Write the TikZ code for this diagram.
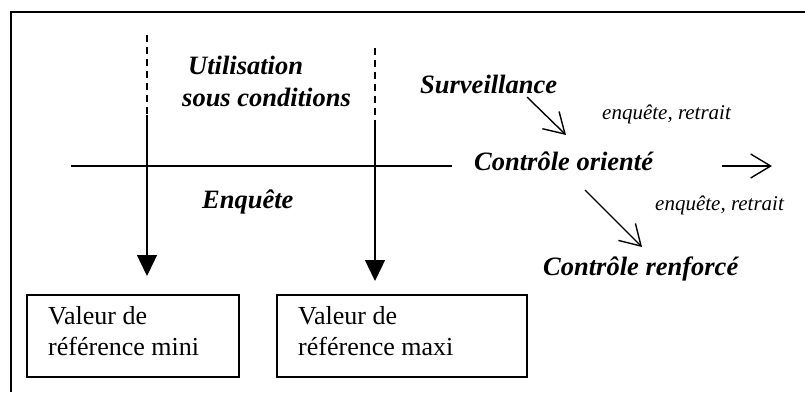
\documentclass[tikz,border=0pt]{standalone}
\usepackage{fontspec}
\setmainfont{Liberation Serif}
\usetikzlibrary{arrows.meta}
\begin{document}
\begin{tikzpicture}[x=1pt,y=-1pt,
  big/.style={font=\fontsize{26.5}{31}\selectfont\bfseries\itshape,inner sep=0pt,anchor=base west},
  small/.style={font=\fontsize{21}{25}\selectfont\itshape,inner sep=0pt,anchor=base west},
  boxtext/.style={font=\fontsize{26}{31}\selectfont,inner sep=0pt,anchor=base west},
  valbox/.style={draw,line width=1.5pt,minimum height=82pt,inner sep=0pt},
  guide/.style={line width=1.3pt,dash pattern=on 7pt off 5pt},
  down/.style={line width=1.3pt,-{Triangle[length=21pt,width=20pt]}},
  barb/.style={line width=1.4pt,-{Straight Barb[length=20pt,width=24pt,line width=1.4pt]}}]
\useasboundingbox (0,0) rectangle (805,392);

% frame
\draw[line width=2pt] (11,392) -- (11,12) -- (805,12);

% threshold axis
\coordinate (axL) at (71,166);
\coordinate (axR) at (452,166);
\draw[line width=1.5pt] (axL) -- (axR);

% reference value boxes
\node[valbox,minimum width=212pt] (mini) at (133,336) {};
\node[valbox,minimum width=250pt] (maxi) at (402,336) {};
\node[boxtext] (mini1) at (48,324) {Valeur de};
\node[boxtext] (mini2) at (48,355) {référence mini};
\node[boxtext] (maxi1) at (298,324) {Valeur de};
\node[boxtext] (maxi2) at (298,355) {référence maxi};

% limits: dashed above, solid arrows below
\coordinate (lTop) at (147,35);
\coordinate (lMid) at (147,115);
\coordinate (lTip) at (147,276);
\coordinate (rTop) at (375,48);
\coordinate (rMid) at (375,125);
\coordinate (rTip) at (375,281);
\draw[guide] (lTop) -- (lMid);
\draw[guide] (rTop) -- (rMid);
\draw[down] (lMid) -- (lTip);
\draw[down] (rMid) -- (rTip);

% labels
\node[big] (util) at (188,74) {Utilisation};
\node[big] (cond) at (182,106) {sous conditions};
\node[big] (enq) at (202,208) {Enquête};
\node[big] (surv) at (420,93) {Surveillance};
\node[big] (orient) at (474,170) {Contrôle orienté};
\node[big] (renf) at (543,275) {Contrôle renforcé};
\node[small] (er1) at (602,119) {enquête, retrait};
\node[small] (er2) at (655,210) {enquête, retrait};

% transitions
\coordinate (s1) at (527,97);
\coordinate (s2) at (566,135);
\coordinate (o1) at (585,190);
\coordinate (o2) at (642,247);
\coordinate (h1) at (722,166);
\coordinate (h2) at (772,166);
\draw[barb] (s1) -- (s2);
\draw[barb] (o1) -- (o2);
\draw[barb] (h1) -- (h2);
\end{tikzpicture}
\end{document}
